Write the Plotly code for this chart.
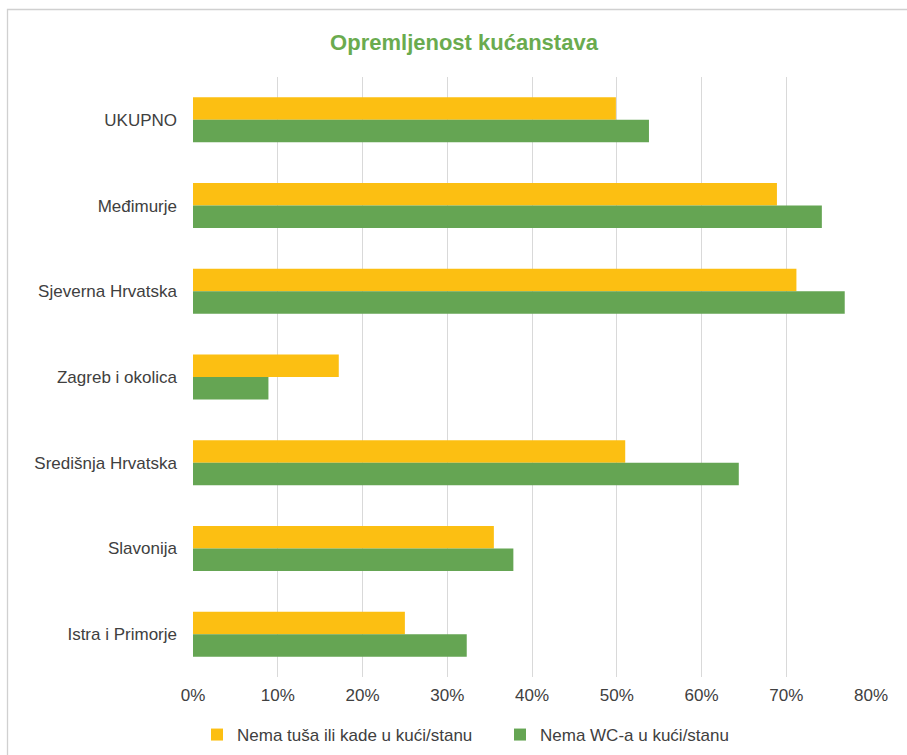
import plotly.graph_objects as go

categories = ["UKUPNO", "Međimurje", "Sjeverna Hrvatska", "Zagreb i okolica",
              "Središnja Hrvatska", "Slavonija", "Istra i Primorje"]
nema_tusa = [0.499, 0.689, 0.712, 0.172, 0.510, 0.355, 0.250]
nema_wc = [0.538, 0.742, 0.769, 0.089, 0.644, 0.378, 0.323]
series_names = ["Nema tuša ili kade u kući/stanu", "Nema WC-a u kući/stanu"]
tick_vals = [0, 0.1, 0.2, 0.3, 0.4, 0.5, 0.6, 0.7, 0.8]
tick_text = ["0%", "10%", "20%", "30%", "40%", "50%", "60%", "70%", "80%"]

YELLOW = "#FCBF12"
GREEN = "#65A553"
FONT = "Liberation Sans, Arial, sans-serif"

fig = go.Figure()
fig.add_trace(go.Bar(y=categories, x=nema_tusa, orientation="h", name=series_names[0],
                     marker=dict(color=YELLOW, line=dict(width=0))))
fig.add_trace(go.Bar(y=categories, x=nema_wc, orientation="h", name=series_names[1],
                     marker=dict(color=GREEN, line=dict(width=0))))

W, H = 907, 755
L, R, T, B = 193, 36, 77, 78
pw = W - L - R
ph = H - T - B

def px_x(x):
    return (x - L) / pw

def px_y(y):
    return (H - B - y) / ph

fig.update_layout(
    width=W, height=H,
    margin=dict(l=L, r=R, t=T, b=B, autoexpand=False),
    paper_bgcolor="white", plot_bgcolor="white",
    barmode="group", bargap=0.475, bargroupgap=0,
    font=dict(family=FONT, size=17, color="#404040"),
    title=dict(text="<b>Opremljenost kućanstava</b>", x=464 / W, xref="container",
               xanchor="center", y=1 - 42 / H, yref="container", yanchor="middle",
               font=dict(family=FONT, size=22, color="#6AAB4F")),
    xaxis=dict(range=[0, 0.8], tickvals=tick_vals, ticktext=tick_text,
               showgrid=True, gridcolor="#D9D9D9", gridwidth=1.3,
               zeroline=False, showline=False, ticks="", ticklabelstandoff=6,
               tickfont=dict(family=FONT, size=17, color="#404040")),
    yaxis=dict(autorange="reversed", showgrid=False, zeroline=False,
               showline=False, ticks="", ticklabelstandoff=15,
               tickfont=dict(family=FONT, size=17, color="#404040")),
    legend=dict(orientation="h", xref="container", yref="container",
                x=197 / W, xanchor="left",
                y=1 - 735 / H, yanchor="middle",
                font=dict(family=FONT, size=17, color="#404040"),
                itemwidth=30, entrywidth=258, traceorder="normal"),
    shapes=[dict(type="rect", xref="paper", yref="paper",
                 x0=px_x(7.5), x1=px_x(915), y0=px_y(765), y1=px_y(9.5),
                 line=dict(color="#D0D0D0", width=1.3), fillcolor="rgba(0,0,0,0)",
                 layer="below")],
)

fig.write_html("out.html", config={"displayModeBar": False},
               post_script="document.body.style.margin='0';")
